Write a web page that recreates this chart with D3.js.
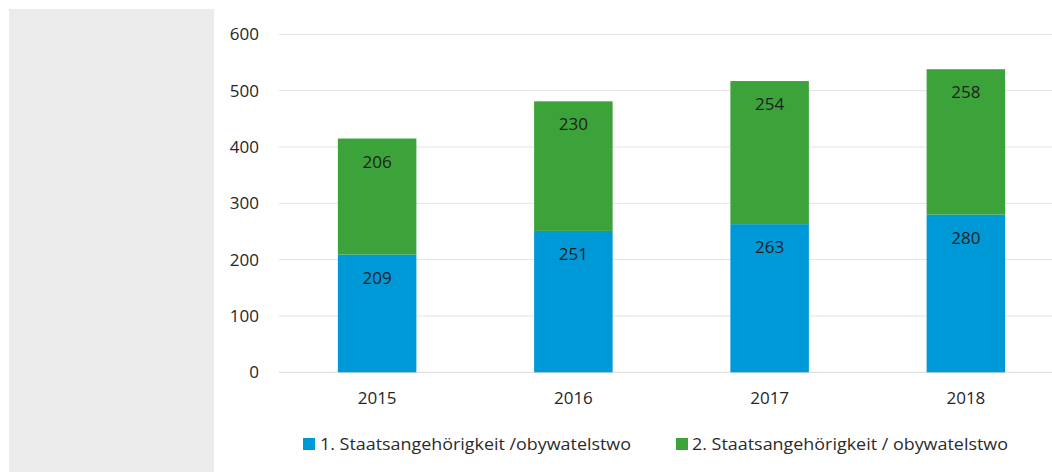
<!DOCTYPE html>
<html>
<head>
<meta charset="utf-8">
<script src="https://cdn.jsdelivr.net/npm/d3@7"></script>
<style>
  html, body { margin: 0; padding: 0; background: #ffffff; }
  svg { display: block; }
  text { font-family: "Open Sans", "DejaVu Sans", sans-serif; }
</style>
</head>
<body>
<div id="chart"></div>
<script>
const years = ["2015", "2016", "2017", "2018"];
const first = [209, 251, 263, 280];
const second = [206, 230, 254, 258];
const seriesNames = ["1. Staatsangehörigkeit /obywatelstwo", "2. Staatsangehörigkeit / obywatelstwo"];
const seriesColors = ["#0099d7", "#3ba33a"];
const yTicks = [0, 100, 200, 300, 400, 500, 600];

const W = 1052, H = 472;
const svg = d3.select("#chart").append("svg").attr("width", W).attr("height", H);

// left grey panel
svg.append("rect").attr("x", 9).attr("y", 9).attr("width", 205).attr("height", H - 9).attr("fill", "#ebebeb");

const x = d3.scaleBand().domain(years).range([279, 1064]).paddingInner(0.6).paddingOuter(0.3);
const y = d3.scaleLinear().domain([0, 600]).range([372.3, 34.3]);

// gridlines
svg.append("g").selectAll("line").data(yTicks).join("line")
  .attr("x1", 279).attr("x2", W)
  .attr("y1", d => y(d)).attr("y2", d => y(d))
  .attr("stroke", d => d === 0 ? "#d9d9d9" : "#e3e3e3").attr("stroke-width", 1);

// y axis labels
const yAxis = d3.axisLeft(y).tickValues(yTicks).tickSize(0).tickPadding(0);
const yg = svg.append("g").attr("transform", "translate(259,0)").call(yAxis);
yg.select(".domain").remove();
yg.selectAll("text").attr("font-size", 17).attr("fill", "#262626")
  .attr("font-family", "'Open Sans', sans-serif");

// x axis labels
const xAxis = d3.axisBottom(x).tickSize(0).tickPadding(0);
const xg = svg.append("g").attr("transform", "translate(0,392)").call(xAxis);
xg.select(".domain").remove();
xg.selectAll("text").attr("font-size", 17).attr("fill", "#262626")
  .attr("font-family", "'Open Sans', sans-serif");

// stacked data
const data = years.map((yr, i) => ({ year: yr, s0: first[i], s1: second[i] }));
const stack = d3.stack().keys(["s0", "s1"])(data);

stack.forEach((layer, li) => {
  const g = svg.append("g");
  g.selectAll("rect").data(layer).join("rect")
    .attr("x", d => x(d.data.year))
    .attr("width", x.bandwidth())
    .attr("y", d => y(d[1]))
    .attr("height", d => y(d[0]) - y(d[1]))
    .attr("fill", seriesColors[li]);
  g.selectAll("text").data(layer).join("text")
    .attr("x", d => x(d.data.year) + x.bandwidth() / 2)
    .attr("y", d => y(d[1]) + 29)
    .attr("text-anchor", "middle")
    .attr("font-size", 17)
    .attr("fill", "#1f1f1f")
    .text(d => d[1] - d[0]);
});

// legend
const legendItems = [
  { sx: 303, tx: 320, len: 311 },
  { sx: 676, tx: 692, len: 316 }
];
legendItems.forEach((it, i) => {
  svg.append("rect").attr("x", it.sx).attr("y", 438).attr("width", 12).attr("height", 12).attr("fill", seriesColors[i]);
  svg.append("text").attr("x", it.tx).attr("y", 450)
    .attr("font-size", 17).attr("fill", "#2b2b2b")
    .attr("textLength", it.len).attr("lengthAdjust", "spacingAndGlyphs")
    .text(seriesNames[i]);
});
</script>
</body>
</html>
